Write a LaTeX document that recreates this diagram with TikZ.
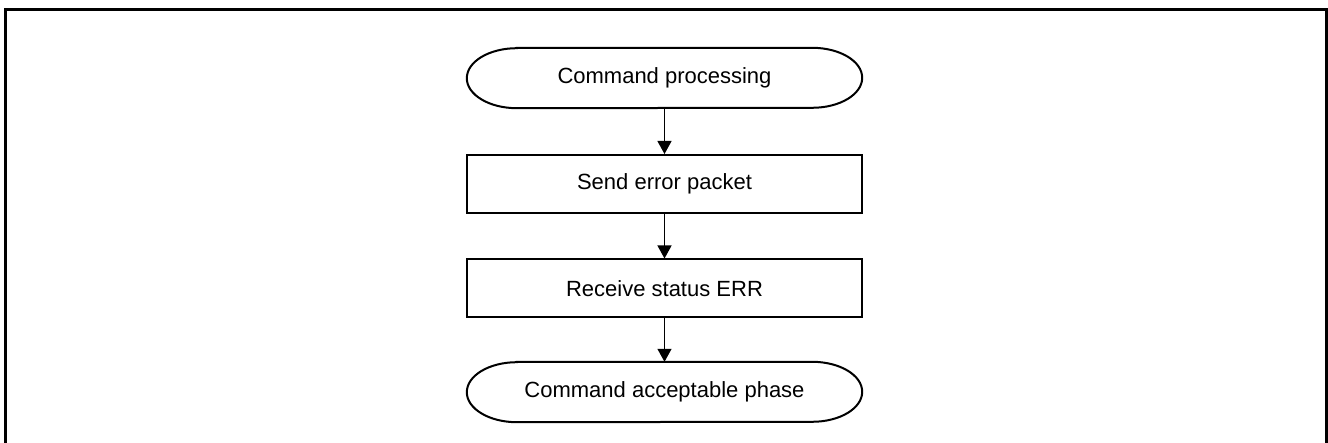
\documentclass[tikz,border=0pt]{standalone}
\usepackage{fontspec}
\setmainfont{Liberation Sans}
\usetikzlibrary{arrows.meta,calc}
\begin{document}
\begin{tikzpicture}[x=1pt,y=1pt,
  every node/.style={font=\fontsize{22}{26}\selectfont, inner sep=0pt},
  procbox/.style={draw, line width=2pt, minimum width=395pt, minimum height=58pt},
  termbox/.style={minimum width=395pt, minimum height=60pt},
  termline/.style={line width=2pt},
  flow/.style={line width=1.2pt, -{Triangle[width=14pt,length=13pt]}}
]
\useasboundingbox (0,0) rectangle (1328,443);
\begin{scope}
\clip (0,0) rectangle (1328,443);
\draw[line width=3pt] (5.5,-10) -- (5.5,433) -- (1326,433) -- (1326,-10);
\end{scope}

\node[termbox] (t1) at (664.5,365) {Command processing};
\node[procbox] (b1) at (664.5,259) {Send error packet};
\node[procbox] (b2) at (664.5,154.5) {Receive status ERR};
\node[termbox] (t2) at (664.5,51) {Command acceptable phase};

\foreach \n in {t1,t2}{
  \draw[termline] ($(\n.north west)+(50,0)$) -- ($(\n.north east)+(-50,0)$)
    arc[start angle=90,end angle=-90,x radius=50pt,y radius=30pt]
    -- ($(\n.south west)+(50,0)$)
    arc[start angle=270,end angle=90,x radius=50pt,y radius=30pt] -- cycle;
}

\draw[flow] (t1.south) -- (b1.north);
\draw[flow] (b1.south) -- (b2.north);
\draw[flow] (b2.south) -- (t2.north);
\end{tikzpicture}
\end{document}
